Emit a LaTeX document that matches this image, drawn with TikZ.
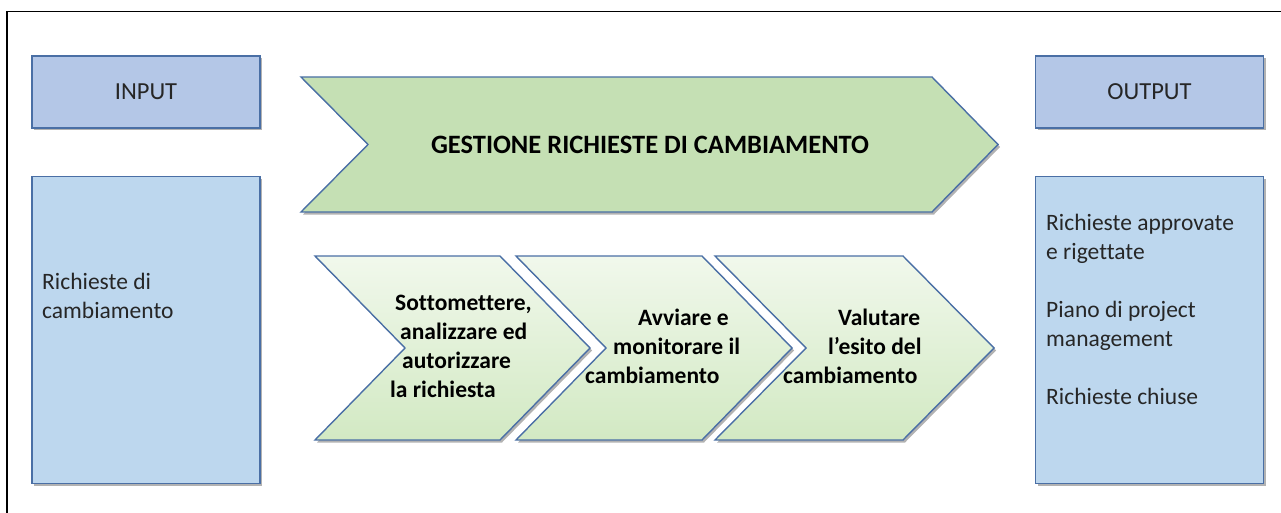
\documentclass[tikz,border=0pt]{standalone}
\usepackage{fontspec}
\setmainfont{Carlito}[Ligatures=NoCommon]
\usetikzlibrary{positioning, shadows}
\definecolor{boxline}{HTML}{4A6FA5}
\definecolor{headfill}{HTML}{B4C7E7}
\definecolor{bodyfill}{HTML}{BDD7EE}
\definecolor{mainfill}{HTML}{C5E0B4}
\definecolor{steptop}{HTML}{F1F8EC}
\definecolor{stepbottom}{HTML}{D2E9C3}
\definecolor{ink}{HTML}{262626}
\tikzset{softshadow/.style = {drop shadow={shadow xshift=2pt, shadow yshift=-2.5pt, opacity=0.3, fill=black}}}
\tikzset{head/.style = {draw=boxline, fill=headfill, line width=1.4pt, minimum width=228pt, minimum height=72pt, softshadow, text=ink, font=\fontsize{24.5}{29}\selectfont}}
\tikzset{body/.style = {draw=boxline, fill=bodyfill, line width=1.4pt, minimum width=228pt, minimum height=307pt, softshadow}}
\tikzset{txt/.style = {anchor=base west, inner sep=0pt, align=left, text=ink, font=\fontsize{23.5}{29}\selectfont}}
\tikzset{mainstep/.style = {draw=boxline, fill=mainfill, line width=1.4pt, softshadow}}
\tikzset{substep/.style = {draw=boxline, top color=steptop, bottom color=stepbottom, line width=1.4pt, softshadow}}
\tikzset{steptxt/.style = {anchor=base west, inner sep=0pt, align=left, font=\fontsize{23.5}{28.8}\selectfont\bfseries}}

\begin{document}
\begin{tikzpicture}[x=1pt, y=-1pt]
	\useasboundingbox (0,0) rectangle (1281,513);
	% Frame
	\draw[line width=1.5pt] (7,513) -- (7,11.5) -- (1281,11.5);
	% Input
	\node [head] (input) at (146,92) {INPUT};
	\node [body, below=47pt of input] (input-body) {};
	\node [txt] (input-txt) at (42,318) {Richieste di\\cambiamento};
	% Output
	\node [head] (output) at (1149.5,92) {OUTPUT};
	\node [body, below=47pt of output] (output-body) {};
	\node [txt] (output-txt) at (1046,404) {Richieste approvate\\e rigettate\\[29pt]Piano di project\\management\\[29pt]Richieste chiuse};
	% Process
	\draw[mainstep] (301,77) -- (932,77) -- (998,144.5) -- (932,212) -- (301,212) -- (368,144.5) -- cycle;
	\node [font=\fontsize{26.5}{30}\selectfont\bfseries] (process) at (650,144.5) {GESTIONE RICHIESTE DI CAMBIAMENTO};
	% Steps
	\draw[substep] (315,256) -- (500,256) -- (590,348) -- (500,440) -- (315,440) -- (405,348) -- cycle;
	\node [steptxt] (submit) at (390,397) {\hspace*{5pt}Sottomettere,\\\hspace*{10pt}analizzare ed\\\hspace*{12pt}autorizzare\\la richiesta};
	\draw[substep] (516,256) -- (702,256) -- (792,348) -- (702,440) -- (516,440) -- (606,348) -- cycle;
	\node [steptxt] (monitor) at (585,383) {\hspace*{53pt}Avviare e\\\hspace*{28pt}monitorare il\\cambiamento};
	\draw[substep] (715,256) -- (903,256) -- (994,348) -- (903,440) -- (715,440) -- (806,348) -- cycle;
	\node [steptxt] (evaluate) at (783,383) {\hspace*{55pt}Valutare\\\hspace*{45pt}l’esito del\\cambiamento};
\end{tikzpicture}
\end{document}
